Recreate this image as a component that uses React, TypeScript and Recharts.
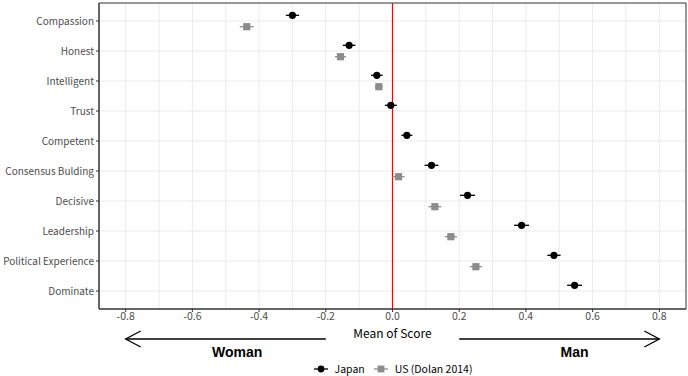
import React from 'react'
import {
  ScatterChart, Scatter, XAxis, YAxis, CartesianGrid, ErrorBar,
  ReferenceLine, ReferenceArea, ReferenceDot,
} from 'recharts'

const traits = [
  'Compassion', 'Honest', 'Intelligent', 'Trust', 'Competent',
  'Consensus Bulding', 'Decisive', 'Leadership', 'Political Experience', 'Dominate',
]
const japanMean = [-0.30, -0.13, -0.047, -0.005, 0.043, 0.117, 0.225, 0.387, 0.484, 0.546]
const japanErr = [0.02, 0.019, 0.0175, 0.018, 0.0165, 0.021, 0.0225, 0.0225, 0.02, 0.0225]
const usMean = [-0.437, -0.156, -0.041, null, null, 0.018, 0.127, 0.175, 0.25, null]
const usErr = [0.021, 0.0165, 0.012, null, null, 0.0185, 0.0195, 0.018, 0.018, null]
const xTicks = [-0.8, -0.6, -0.4, -0.2, 0, 0.2, 0.4, 0.6, 0.8]
const gridX = [-0.8, -0.7, -0.6, -0.5, -0.4, -0.3, -0.2, -0.1, 0, 0.1, 0.2, 0.3, 0.4, 0.5, 0.6, 0.7, 0.8]

const DODGE = 0.19
const FONT = '"Noto Sans CJK JP", "Noto Sans", sans-serif'
const GREY = '#8C8C8C'

const japanData = traits.map((t, i) => ({ trait: t, x: japanMean[i], y: i + 1 - DODGE, err: japanErr[i] }))
const usData = traits
  .map((t, i) => ({ trait: t, x: usMean[i], y: i + 1 + DODGE, err: usErr[i] }))
  .filter((d) => d.x !== null)

const Dot = (p: any) => <circle cx={p.cx} cy={p.cy} r={3.6} fill="#000" />
const Square = (p: any) => <rect x={p.cx - 3.6} y={p.cy - 3.6} width={7.2} height={7.2} fill={GREY} />

const Arrow = (p: any) => {
  const { x1, y1, x2, y2 } = p
  const dir = x2 > x1 ? 1 : -1
  return (
    <g>
      <line x1={x1} y1={y1} x2={x2} y2={y2} stroke="#000" strokeWidth={1.3} />
      <path
        d={`M${x2 - dir * 15},${y2 - 8} L${x2},${y2} L${x2 - dir * 15},${y2 + 8}`}
        fill="none" stroke="#000" strokeWidth={1.3}
      />
    </g>
  )
}

const Word = (text: string) => (p: any) => (
  <text x={p.cx} y={p.cy} textAnchor="middle" dominantBaseline="central"
    fontFamily='"Liberation Sans", Arial, sans-serif' fontWeight="bold" fontSize={14} fill="#000">
    {text}
  </text>
)

// y tick without wrapping
const TraitTick = (p: any) => (
  <text x={p.x} y={p.y - 0.5} textAnchor="end" dominantBaseline="central"
    fontFamily={FONT} fontSize={10} fill="#4D4D4D">
    {traits[p.payload.value - 1]}
  </text>
)

function LegendRow() {
  return (
    <div style={{
      position: 'absolute', top: 361, left: 99, width: 587, display: 'flex', justifyContent: 'center',
      fontFamily: FONT, fontSize: 10.5, color: '#000', alignItems: 'center',
    }}>
      <svg width={16} height={14}>
        <line x1={1} y1={7} x2={15} y2={7} stroke="#000" strokeWidth={1.3} />
        <circle cx={8} cy={7} r={3.4} fill="#000" />
      </svg>
      <span style={{ marginLeft: 6, marginRight: 8 }}>Japan</span>
      <svg width={16} height={14}>
        <line x1={1} y1={7} x2={15} y2={7} stroke={GREY} strokeWidth={1.3} />
        <rect x={4.6} y={3.6} width={6.8} height={6.8} fill={GREY} />
      </svg>
      <span style={{ marginLeft: 6 }}>US (Dolan 2014)</span>
    </div>
  )
}

export default function App() {
  return (
    <div style={{ position: 'absolute', left: 0, top: 0, width: 688, height: 376, background: '#fff' }}>
      <ScatterChart width={688} height={376} margin={{ top: 3, right: 2, left: 0, bottom: 0 }}>
        <CartesianGrid stroke="#EBEBEB" strokeWidth={1} verticalValues={gridX} horizontalValues={[1, 2, 3, 4, 5, 6, 7, 8, 9, 10]} />
        <XAxis
          type="number" dataKey="x" domain={[-0.88, 0.88]} allowDataOverflow ticks={xTicks}
          tickFormatter={(v: number) => v.toFixed(1)}
          height={67} tickSize={3} tickMargin={1}
          axisLine={{ stroke: '#333' }} tickLine={{ stroke: '#333' }}
          tick={{ fontSize: 10.5, fill: '#4D4D4D', fontFamily: FONT }}
          label={{ value: 'Mean of Score', position: 'insideTop', offset: 20, fill: '#000', fontSize: 12, fontFamily: FONT }}
        />
        <YAxis
          type="number" dataKey="y" domain={[0.4, 10.6]} allowDataOverflow reversed
          ticks={[1, 2, 3, 4, 5, 6, 7, 8, 9, 10]} interval={0}
          width={99} tickSize={3} tickMargin={2}
          axisLine={{ stroke: '#333' }} tickLine={{ stroke: '#333' }}
          tick={TraitTick}
        />
        <ReferenceArea x1={-0.88} x2={0.88} y1={0.4} y2={10.6} fill="none" stroke="#333" strokeWidth={1} ifOverflow="visible" />
        <ReferenceLine x={0} stroke="#FF0000" strokeWidth={1.2} />
        <ReferenceLine segment={[{ x: -0.2, y: 11.6 }, { x: -0.8, y: 11.6 }]} ifOverflow="visible" shape={Arrow} />
        <ReferenceLine segment={[{ x: 0.2, y: 11.6 }, { x: 0.8, y: 11.6 }]} ifOverflow="visible" shape={Arrow} />
        <ReferenceDot x={-0.466} y={12.03} r={0} ifOverflow="visible" shape={Word('Woman')} />
        <ReferenceDot x={0.546} y={12.03} r={0} ifOverflow="visible" shape={Word('Man')} />
        <Scatter name="US (Dolan 2014)" data={usData} shape={Square} isAnimationActive={false}>
          <ErrorBar dataKey="err" direction="x" width={0} stroke={GREY} strokeWidth={1.3} />
        </Scatter>
        <Scatter name="Japan" data={japanData} shape={Dot} isAnimationActive={false}>
          <ErrorBar dataKey="err" direction="x" width={0} stroke="#000" strokeWidth={1.3} />
        </Scatter>
      </ScatterChart>
      <LegendRow />
    </div>
  )
}
